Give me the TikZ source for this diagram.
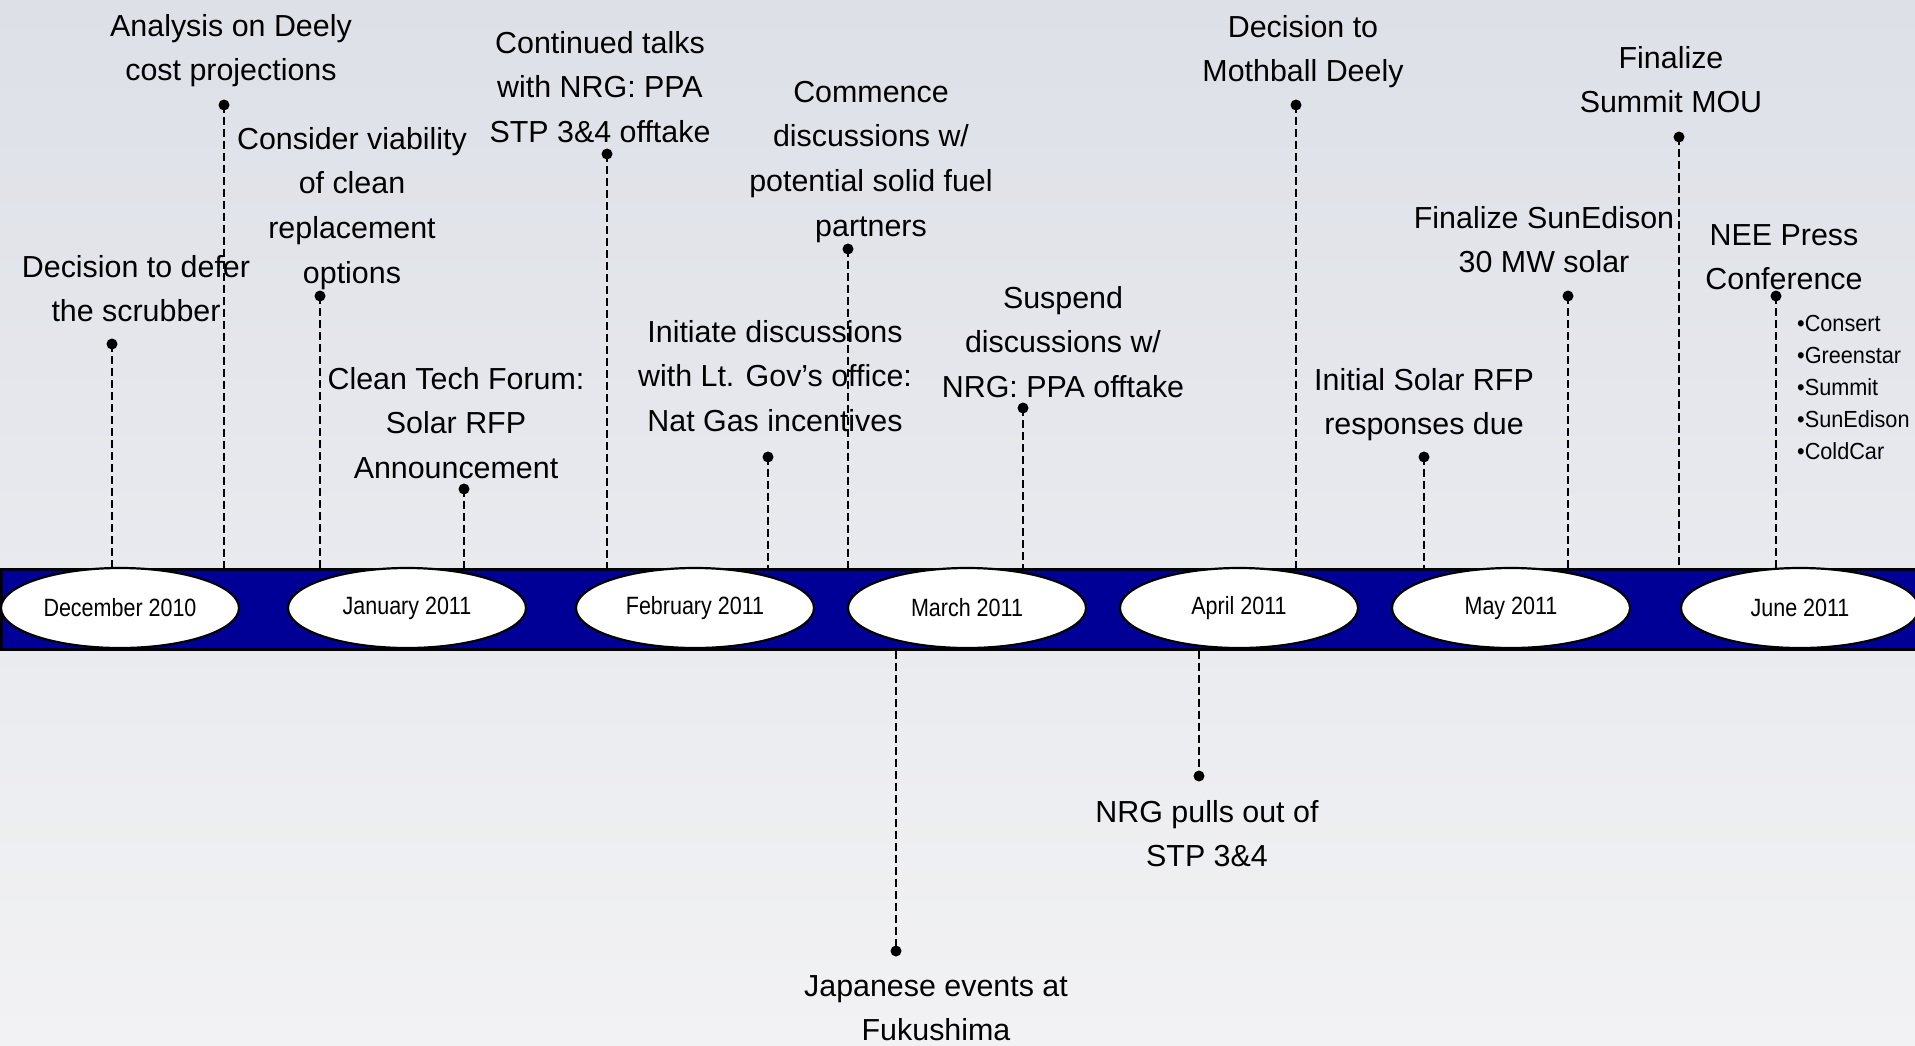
\documentclass[tikz,border=0pt]{standalone}
\usepackage{fontspec}
\setmainfont{Liberation Sans}
\newfontfamily\monthfont[FakeStretch=0.86]{Liberation Sans}
\newfontfamily\bulletfont[FakeStretch=0.93]{Liberation Sans}
\usetikzlibrary{shapes.geometric}
\definecolor{bandblue}{RGB}{0,0,150}
\definecolor{bgtop}{RGB}{221,224,231}
\definecolor{bgbot}{RGB}{242,242,244}
\tikzset{
  evt/.style={font=\fontsize{30.4}{44.8}\selectfont, align=center, inner sep=0pt, anchor=base},
  monthnode/.style={ellipse, draw=black, line width=2.2pt, fill=white, minimum width=238pt, minimum height=80pt, inner sep=0pt, font=\monthfont\fontsize{25}{30}\selectfont},
  evdot/.style={circle, fill=black, inner sep=0pt, minimum size=11pt},
  conn/.style={draw=black, line width=2.8pt, dash pattern=on 8pt off 4pt},
}
\begin{document}
\begin{tikzpicture}[x=1pt,y=-1pt]
\useasboundingbox (0,0) rectangle (1915,1045);
\shade[top color=bgtop, bottom color=bgbot] (0,0) rectangle (1915,1045);

% event texts (anchor = baseline of the last line)
\node[evt] (t1) at (136,321.8) {Decision to defer\\the scrubber};
\node[evt] (t2) at (231,80.8) {Analysis on Deely\\cost projections};
\node[evt] (t3) at (352,283.4) {Consider viability\\of clean\\replacement\\options};
\node[evt] (t4) at (456,478.6) {Clean Tech Forum:\\Solar RFP\\Announcement};
\node[evt] (t5) at (600,142.6) {Continued talks\\with NRG: PPA\\STP 3\&4 offtake};
\node[evt] (t6) at (775,431.6) {Initiate discussions\\with Lt. Gov’s office:\\Nat Gas incentives};
\node[evt] (t7) at (871,236.4) {Commence\\discussions w/\\potential solid fuel\\partners};
\node[evt] (t8) at (1063,397.6) {Suspend\\discussions w/\\NRG: PPA offtake};
\node[evt] (t9) at (936,1040.8) {Japanese events at\\Fukushima};
\node[evt] (t10) at (1303,81.8) {Decision to\\Mothball Deely};
\node[evt] (t11) at (1207,866.8) {NRG pulls out of\\STP 3\&4};
\node[evt] (t12) at (1424,434.8) {Initial Solar RFP\\responses due};
\node[evt] (t13) at (1544,272.8) {Finalize SunEdison\\30 MW solar};
\node[evt] (t14) at (1671,112.8) {Finalize\\Summit MOU};
\node[evt] (t15) at (1784,289.8) {NEE Press\\Conference};
\node[anchor=base west, align=left, inner sep=0pt, font=\bulletfont\fontsize{23.3}{32}\selectfont] (bl) at (1797,459) {•Consert\\•Greenstar\\•Summit\\•SunEdison\\•ColdCar};

% band
\node[draw=black, line width=2.5pt, fill=bandblue, minimum width=1915pt, minimum height=80pt, inner sep=0pt, anchor=north west] (band) at (0,568) {};

% dots
\node[evdot] (d1) at (112,344) {};
\node[evdot] (d2) at (224,105) {};
\node[evdot] (d3) at (320,296) {};
\node[evdot] (d4) at (464,489) {};
\node[evdot] (d5) at (607,154) {};
\node[evdot] (d6) at (768,457) {};
\node[evdot] (d7) at (848,249) {};
\node[evdot] (d8) at (1023,408) {};
\node[evdot] (d9) at (896,951) {};
\node[evdot] (d10) at (1296,105) {};
\node[evdot] (d11) at (1199,776) {};
\node[evdot] (d12) at (1424,457) {};
\node[evdot] (d13) at (1568,296) {};
\node[evdot] (d14) at (1679,137) {};
\node[evdot] (d15) at (1776,296) {};

% connectors
\foreach \d in {d1,d2,d3,d4,d5,d6,d7,d8,d10,d12,d13,d14,d15}{
  \draw[conn] (\d.center) -- (\d.center |- band.north);
}
\foreach \d in {d9,d11}{
  \draw[conn] (\d.center |- band.south) -- (\d.center);
}

% month ellipses
\node[monthnode] (m1) at (120,608) {December 2010};
\node[monthnode] (m2) at (407,608) {January 2011};
\node[monthnode] (m3) at (695,608) {February 2011};
\node[monthnode] (m4) at (967,608) {March 2011};
\node[monthnode] (m5) at (1239,608) {April 2011};
\node[monthnode] (m6) at (1511,608) {May 2011};
\node[monthnode] (m7) at (1800,608) {June 2011};
\end{tikzpicture}
\end{document}
